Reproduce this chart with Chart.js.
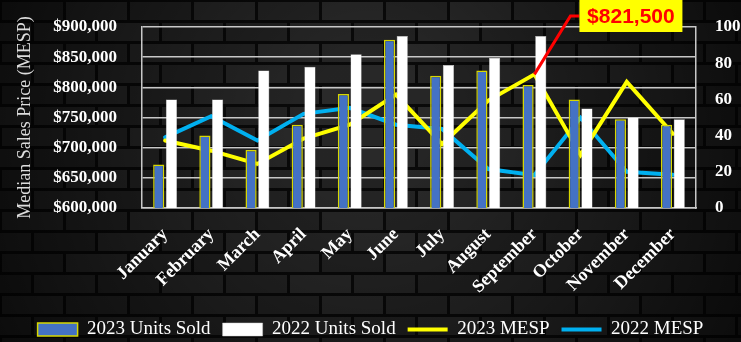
<!DOCTYPE html>
<html>
<head>
<meta charset="utf-8">
<script src="https://cdn.jsdelivr.net/npm/chart.js@4.4.0/dist/chart.umd.min.js"></script>
<style>
    html, body { margin: 0; padding: 0; background: #111; }
    #caixa { width: 741px; height: 342px; }
</style>
</head>
<body>
<div id="caixa"><canvas id="graficoVendas" width="741" height="342"></canvas></div>
<script>
// dados
const meses = ['January', 'February', 'March', 'April', 'May', 'June', 'July', 'August', 'September', 'October', 'November', 'December'];
const unidades2023 = [24, 40, 32, 46, 63, 93, 73, 76, 68, 60, 49, 46];
const unidades2022 = [60, 60, 76, 78, 85, 95, 79, 83, 95, 55, 50, 49];
const mesp2023 = [712000, 695000, 673000, 715000, 738000, 788000, 706000, 778000, 821500, 688000, 809000, 723000];
const mesp2022 = [717000, 752000, 712000, 756000, 766000, 738000, 731000, 664500, 654500, 749500, 660000, 655000];
const precoMin = 600000, precoMax = 900000, precoPasso = 50000;
const unidadesMin = 0, unidadesMax = 100, unidadesPasso = 20;
const mesDestaque = 8; // September

const serif = '"Liberation Serif", "Times New Roman", serif';

function formatarPreco(v) {
    return '$' + Number(v).toLocaleString('en-US');
}

// fundo de tijolos escuros
const fundoTijolos = {
    id: 'fundoTijolos',
    beforeDraw(chart) {
        const ctx = chart.ctx;
        const w = chart.width, h = chart.height;
        ctx.save();
        ctx.fillStyle = '#0a0a0a';
        ctx.fillRect(0, 0, w, h);
        const alt = 21, larg = 64;
        for (let linha = 0; linha * alt < h; linha++) {
            const desloc = (linha % 2) * larg / 2;
            for (let x = -desloc, k = 0; x < w; x += larg, k++) {
                const tom = 36 + ((linha * 7 + k * 5) % 9);
                ctx.fillStyle = 'rgb(' + tom + ',' + tom + ',' + tom + ')';
                ctx.fillRect(x + 2, linha * alt + 2, larg - 3, alt - 3);
            }
        }
        const grad = ctx.createRadialGradient(w / 2, h * 0.35, 60, w / 2, h * 0.45, w * 0.62);
        grad.addColorStop(0, 'rgba(0,0,0,0.05)');
        grad.addColorStop(1, 'rgba(0,0,0,0.8)');
        ctx.fillStyle = grad;
        ctx.fillRect(0, 0, w, h);
        ctx.restore();
    }
};

// etiqueta amarela do mês de destaque
const etiquetaDestaque = {
    id: 'etiquetaDestaque',
    afterDatasetsDraw(chart) {
        const ponto = chart.getDatasetMeta(2).data[mesDestaque];
        if (!ponto) return;
        const ctx = chart.ctx;
        const caixaX = ponto.x + 45, caixaY = 0, caixaL = 103, caixaA = 32;
        ctx.save();
        ctx.strokeStyle = '#ff0000';
        ctx.lineWidth = 3;
        ctx.beginPath();
        ctx.moveTo(ponto.x, ponto.y);
        ctx.lineTo(ponto.x + 36, caixaY + caixaA / 2);
        ctx.lineTo(caixaX, caixaY + caixaA / 2);
        ctx.stroke();
        ctx.fillStyle = '#ffff00';
        ctx.fillRect(caixaX, caixaY, caixaL, caixaA);
        ctx.fillStyle = '#ff0000';
        ctx.font = 'bold 21px "Liberation Sans", Arial, sans-serif';
        ctx.textAlign = 'center';
        ctx.textBaseline = 'middle';
        ctx.fillText(formatarPreco(mesp2023[mesDestaque]), caixaX + caixaL / 2, caixaY + caixaA / 2 + 1);
        ctx.restore();
    }
};

const dados = {
    labels: meses,
    datasets: [
        {
            type: 'bar',
            label: '2023 Units Sold',
            data: unidades2023,
            backgroundColor: '#4472c4',
            borderColor: '#d8d800',
            borderWidth: 1.5,
            yAxisID: 'yUnidades',
            pointStyle: 'rect',
            categoryPercentage: 0.55,
            barPercentage: 0.88
        },
        {
            type: 'bar',
            label: '2022 Units Sold',
            data: unidades2022,
            backgroundColor: '#ffffff',
            borderColor: '#cfcfcf',
            borderWidth: 0.5,
            yAxisID: 'yUnidades',
            pointStyle: 'rect',
            categoryPercentage: 0.55,
            barPercentage: 0.88
        },
        {
            type: 'line',
            label: '2023 MESP',
            data: mesp2023,
            borderColor: '#ffff00',
            backgroundColor: '#ffff00',
            borderWidth: 4,
            borderCapStyle: 'round',
            pointRadius: 0,
            tension: 0,
            yAxisID: 'yPreco',
            pointStyle: 'line'
        },
        {
            type: 'line',
            label: '2022 MESP',
            data: mesp2022,
            borderColor: '#00b0f0',
            backgroundColor: '#00b0f0',
            borderWidth: 4,
            borderCapStyle: 'round',
            pointRadius: 0,
            tension: 0,
            yAxisID: 'yPreco',
            pointStyle: 'line'
        }
    ]
};

const config = {
    type: 'bar',
    data: dados,
    options: {
        responsive: false,
        animation: false,
        layout: { padding: { top: 27, left: 0, right: 0, bottom: -7 } },
        plugins: {
            tooltip: { enabled: false },
            legend: {
                position: 'bottom',
                labels: {
                    color: '#ffffff',
                    font: { family: serif, size: 19 },
                    usePointStyle: true,
                    pointStyleWidth: 40,
                    boxHeight: 13,
                    padding: 12,
                    sort: (a, b) => a.datasetIndex - b.datasetIndex
                }
            }
        },
        scales: {
            x: {
                grid: { display: false },
                border: { color: '#c8c8c8', width: 1.5 },
                ticks: {
                    color: '#ffffff',
                    font: { family: serif, size: 18, weight: 'bold' },
                    minRotation: 45,
                    maxRotation: 45,
                    padding: 8
                },
                afterFit: (s) => { s.height = 100; }
            },
            yPreco: {
                position: 'left',
                min: precoMin,
                max: precoMax,
                // marcas invisíveis só para afastar os rótulos do eixo
                grid: { color: '#c8c8c8', lineWidth: 1.5, tickLength: 25, tickColor: 'rgba(0,0,0,0)' },
                border: { color: '#c8c8c8', width: 1.5 },
                ticks: {
                    stepSize: precoPasso,
                    color: '#ffffff',
                    font: { family: serif, size: 17, weight: 'bold' },
                    padding: 0,
                    callback: (v) => formatarPreco(v)
                },
                title: {
                    display: true,
                    text: 'Median Sales Price (MESP)',
                    color: '#dddddd',
                    font: { family: serif, size: 18 },
                    padding: { top: 14, bottom: 0 }
                },
                afterFit: (s) => { s.width = 142; }
            },
            yUnidades: {
                position: 'right',
                min: unidadesMin,
                max: unidadesMax,
                grid: { display: false, tickLength: 19 },
                border: { color: '#c8c8c8', width: 1.5 },
                ticks: {
                    stepSize: unidadesPasso,
                    color: '#ffffff',
                    font: { family: serif, size: 17, weight: 'bold' },
                    padding: 0
                },
                afterFit: (s) => { s.width = 45; }
            }
        }
    },
    plugins: [fundoTijolos, etiquetaDestaque]
};

const graficoVendas = new Chart(document.getElementById('graficoVendas'), config);
</script>
</body>
</html>
